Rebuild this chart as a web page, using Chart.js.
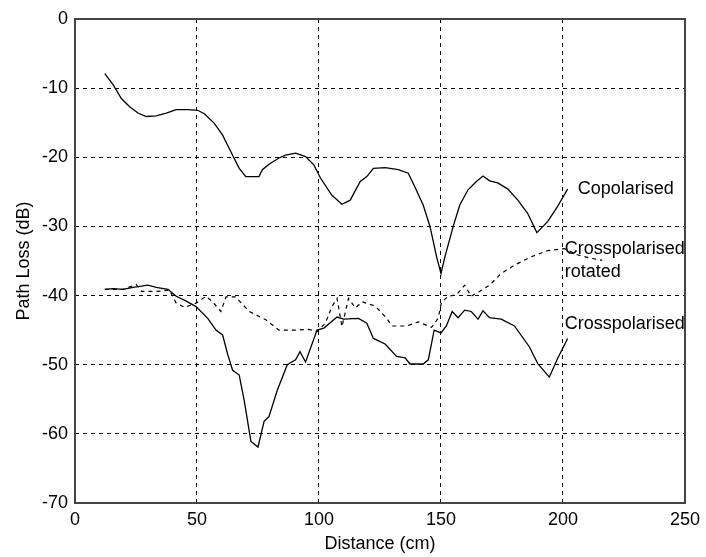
<!DOCTYPE html>
<html>
<head>
<meta charset="utf-8">
<script src="https://cdn.jsdelivr.net/npm/chart.js@4/dist/chart.umd.min.js"></script>
<style>
  html, body { margin: 0; padding: 0; background: #fff; }
  #wrap { width: 706px; height: 557px; position: relative; }
</style>
</head>
<body>
<div id="wrap"><canvas id="c" width="706" height="557"></canvas></div>
<script>
// ---- Data ----
const xTicks = [0, 50, 100, 150, 200, 250];
const yTicks = [-70, -60, -50, -40, -30, -20, -10, 0];

const coDistance = [12.2, 15.6, 19.0, 22.4, 25.8, 29.2, 33.3, 37.4, 41.5, 46.2, 50.3, 53.0, 57.1, 60.5, 64.6, 67.3, 70.0, 75.4, 76.8, 79.5, 83.6, 86.3, 90.4, 94.5, 97.9, 100.6, 105.3, 109.4, 112.8, 116.9, 119.6, 122.3, 127.1, 132.5, 136.6, 139.3, 142.7, 145.5, 148.2, 150.0, 151.6, 155.0, 157.7, 161.1, 164.5, 167.2, 169.9, 173.3, 177.4, 181.5, 185.5, 189.3, 193.7, 197.8, 201.9];
const coLoss = [-7.9, -9.5, -11.5, -12.7, -13.6, -14.1, -14.0, -13.6, -13.1, -13.1, -13.2, -13.7, -15.1, -16.8, -19.7, -21.6, -22.8, -22.8, -21.8, -21.0, -20.1, -19.7, -19.4, -19.9, -21.1, -23.0, -25.5, -26.8, -26.2, -23.5, -22.8, -21.6, -21.5, -21.8, -22.3, -24.3, -26.9, -30.0, -34.4, -36.8, -34.4, -30.0, -26.9, -24.7, -23.5, -22.7, -23.4, -23.7, -24.6, -26.2, -28.1, -30.9, -29.3, -27.1, -24.6];

const rotDistance = [12.2, 19.7, 25.1, 27.2, 34.0, 38.7, 41.5, 44.9, 49.6, 53.7, 56.4, 59.8, 61.9, 65.9, 71.4, 78.2, 83.6, 90.4, 95.8, 99.2, 102.6, 105.3, 107.4, 109.4, 112.1, 114.9, 117.6, 123.0, 127.8, 129.8, 135.9, 140.7, 146.1, 148.8, 150.2, 152.9, 156.3, 159.7, 162.4, 165.8, 169.9, 174.7, 180.1, 186.9, 193.7, 200.5, 205.9, 211.4, 216.1];
const rotLoss = [-39.1, -39.1, -38.4, -39.4, -39.4, -39.2, -41.1, -41.7, -41.1, -40.1, -40.9, -42.3, -40.2, -40.2, -42.3, -43.5, -45.0, -45.0, -44.9, -45.2, -44.0, -41.6, -40.4, -44.5, -40.4, -41.8, -40.9, -41.5, -43.3, -44.4, -44.4, -43.8, -44.6, -43.3, -41.0, -40.1, -39.9, -38.5, -40.1, -39.4, -38.5, -36.8, -35.6, -34.4, -33.5, -33.2, -34.1, -34.6, -34.9];

const crossDistance = [12.2, 15.6, 19.7, 23.8, 29.9, 33.3, 38.1, 41.5, 45.6, 49.6, 54.4, 57.8, 60.5, 62.5, 64.6, 67.3, 69.3, 72.1, 75.0, 77.5, 79.5, 82.9, 87.0, 90.4, 92.2, 94.5, 99.2, 102.0, 107.4, 110.1, 116.2, 119.6, 122.3, 127.1, 131.8, 135.3, 137.3, 142.7, 144.8, 147.2, 150.0, 152.2, 154.6, 157.0, 159.7, 162.4, 165.2, 167.2, 169.9, 174.7, 180.1, 186.2, 189.6, 194.4, 197.8, 201.9];
const crossLoss = [-39.1, -39.0, -39.1, -38.8, -38.5, -38.8, -39.1, -40.1, -40.8, -41.6, -43.3, -45.0, -45.7, -48.4, -50.8, -51.5, -55.1, -61.1, -61.9, -58.2, -57.5, -53.7, -50.0, -49.3, -48.1, -49.6, -45.0, -44.7, -43.1, -43.4, -43.3, -44.0, -46.2, -47.0, -48.8, -49.0, -49.9, -49.9, -49.3, -45.0, -45.4, -44.4, -42.3, -43.2, -42.1, -42.3, -43.4, -42.2, -43.2, -43.4, -44.4, -47.4, -49.8, -51.8, -49.1, -46.2];

// Curve labels: text and the data point they are anchored at
const curveLabels = [
  { text: 'Copolarised',    x: 206,   y: -24.6 },
  { text: 'Crosspolarised', x: 200.7, y: -33.3 },
  { text: 'rotated',        x: 200.7, y: -36.6 },
  { text: 'Crosspolarised', x: 200.7, y: -44.1 }
];

const FONT = '"Liberation Sans", Arial, Helvetica, sans-serif';
const FSIZE = 18;

function pts(xs, ys) { return xs.map((x, i) => ({ x: x, y: ys[i] })); }

const boxAndLabels = {
  id: 'boxAndLabels',
  afterDatasetsDraw(chart) {
    const { ctx, chartArea: a, scales } = chart;
    ctx.save();
    ctx.font = FSIZE + 'px ' + FONT;
    ctx.fillStyle = '#000';
    ctx.textAlign = 'left';
    ctx.textBaseline = 'middle';
    curveLabels.forEach(l => {
      ctx.fillText(l.text, scales.x.getPixelForValue(l.x), scales.y.getPixelForValue(l.y));
    });
    ctx.strokeStyle = '#444';
    ctx.lineWidth = 2;
    ctx.setLineDash([]);
    ctx.strokeRect(a.left, a.top, a.right - a.left, a.bottom - a.top);
    ctx.restore();
  }
};

new Chart(document.getElementById('c'), {
  type: 'line',
  data: {
    datasets: [
      { label: 'Copolarised', data: pts(coDistance, coLoss), borderColor: '#000', borderWidth: 1.3, pointRadius: 0, tension: 0, fill: false },
      { label: 'Crosspolarised rotated', data: pts(rotDistance, rotLoss), borderColor: '#000', borderWidth: 1.2, borderDash: [4, 4], pointRadius: 0, tension: 0, fill: false },
      { label: 'Crosspolarised', data: pts(crossDistance, crossLoss), borderColor: '#000', borderWidth: 1.3, pointRadius: 0, tension: 0, fill: false }
    ]
  },
  options: {
    responsive: false,
    animation: false,
    events: [],
    layout: { padding: { top: 19, right: 18, left: 0, bottom: 0 } },
    plugins: { legend: { display: false }, tooltip: { enabled: false } },
    scales: {
      x: {
        type: 'linear',
        min: xTicks[0], max: xTicks[xTicks.length - 1],
        afterBuildTicks: s => { s.ticks = xTicks.map(v => ({ value: v })); },
        afterFit: s => { s.height = 54; },
        grid: { color: '#000', lineWidth: 1, drawTicks: false },
        border: { display: false, dash: [4, 4] },
        ticks: { color: '#000', font: { family: FONT, size: FSIZE }, padding: 6, maxRotation: 0 },
        title: { display: true, text: 'Distance (cm)', color: '#000', font: { family: FONT, size: FSIZE }, padding: { top: 0, bottom: 2 } }
      },
      y: {
        type: 'linear',
        min: yTicks[0], max: yTicks[yTicks.length - 1],
        afterBuildTicks: s => { s.ticks = yTicks.map(v => ({ value: v })); },
        afterFit: s => { s.width = 75; },
        grid: { color: '#000', lineWidth: 1, drawTicks: false },
        border: { display: false, dash: [4, 4] },
        ticks: { color: '#000', font: { family: FONT, size: FSIZE }, padding: 7 },
        title: { display: true, text: 'Path Loss (dB)', color: '#000', font: { family: FONT, size: FSIZE }, padding: { top: 13, bottom: 0 } }
      }
    }
  },
  plugins: [boxAndLabels]
});
</script>
</body>
</html>
